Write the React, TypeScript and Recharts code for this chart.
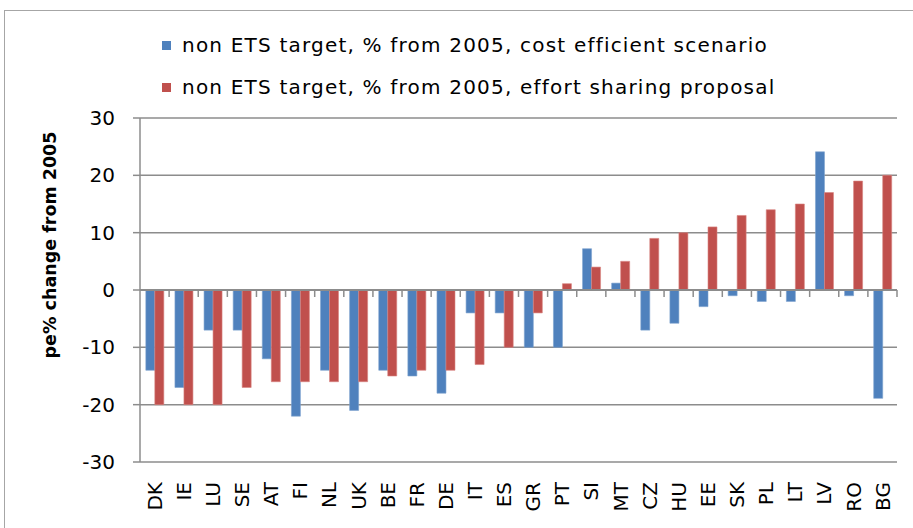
import React from "react";
import {
  Bar,
  BarChart,
  CartesianGrid,
  Legend,
  ReferenceLine,
  XAxis,
  YAxis,
} from "recharts";

// Länder (EU), Reihenfolge wie im Original
const countries = [
  "DK", "IE", "LU", "SE", "AT", "FI", "NL", "UK", "BE", "FR", "DE", "IT", "ES", "GR",
  "PT", "SI", "MT", "CZ", "HU", "EE", "SK", "PL", "LT", "LV", "RO", "BG",
];

// non ETS target, % from 2005, cost efficient scenario
const costEfficient = [
  -14, -17, -7, -7, -12, -22, -14, -21, -14, -15, -18, -4, -4, -10,
  -10, 7.2, 1.2, -7, -5.8, -2.9, -1, -2, -2, 24.1, -1, -18.9,
];

// non ETS target, % from 2005, effort sharing proposal
const effortSharing = [
  -20, -20, -20, -17, -16, -16, -16, -16, -15, -14, -14, -13, -10, -4,
  1.1, 4, 5, 9, 10, 11, 13, 14, 15, 17, 19, 20,
];

const yTicks = [-30, -20, -10, 0, 10, 20, 30];

const seriesNames = {
  cost: "non ETS target, % from 2005, cost efficient scenario",
  effort: "non ETS target, % from 2005, effort sharing proposal",
};

const BLUE = "#4F81BD";
const RED = "#C0504D";
const GRID = "#8c8c8c";
const FONT = "'DejaVu Sans', sans-serif";

const data = countries.map((c, i) => ({
  country: c,
  cost: costEfficient[i],
  effort: effortSharing[i],
}));

function CountryTick(props: any) {
  const { x, y, payload } = props;
  return (
    <text
      x={x}
      y={y}
      dy="0.36em"
      transform={`rotate(-90, ${x}, ${y})`}
      textAnchor="end"
      fontSize={20}
      fontFamily={FONT}
      fill="#000"
    >
      {payload.value}
    </text>
  );
}

function LegendBox(props: any) {
  const { payload } = props;
  return (
    <div style={{ fontFamily: FONT, fontSize: 20, color: "#000", letterSpacing: "1.2px" }}>
      {(payload || []).map((p: any) => (
        <div
          key={p.value}
          style={{ display: "flex", alignItems: "center", height: 42, whiteSpace: "nowrap" }}
        >
          <span
            style={{ width: 9, height: 9, background: p.color, display: "inline-block", marginRight: 11 }}
          />
          {p.value}
        </div>
      ))}
    </div>
  );
}

// Nulllinie mit Teilstrichen zwischen den Kategorien
function ZeroLine(props: any) {
  const { x1, y1, x2, y2 } = props;
  const step = (x2 - x1) / countries.length;
  const marks = countries.map((_, i) => x1 + step * (i + 1));
  return (
    <g>
      <line x1={x1} y1={y1} x2={x2} y2={y2} stroke={GRID} strokeWidth={1.8} />
      {marks.map((mx, i) => (
        <line key={i} x1={mx} y1={y1} x2={mx} y2={y1 + 7} stroke={GRID} strokeWidth={1.5} />
      ))}
    </g>
  );
}

export default function App() {
  return (
    <div
      style={{
        position: "absolute",
        left: 0,
        top: 0,
        width: 913,
        height: 528,
        overflow: "hidden",
        background: "#fff",
      }}
    >
      <div
        style={{
          position: "absolute",
          left: 4,
          top: 10,
          width: 940,
          height: 560,
          border: "1.5px solid #a6a6a6",
        }}
      />
      <BarChart
        width={913}
        height={528}
        data={data}
        margin={{ top: 118, right: 16, bottom: 0, left: 0 }}
        barCategoryGap="20%"
        barGap={0}
      >
        <CartesianGrid vertical={false} stroke={GRID} strokeWidth={1.5} />
        <XAxis
          dataKey="country"
          height={66}
          axisLine={false}
          tickLine={false}
          tickSize={0}
          tickMargin={20}
          interval={0}
          tick={<CountryTick />}
        />
        <YAxis
          width={140}
          domain={[-30, 30]}
          ticks={yTicks}
          interval={0}
          axisLine={{ stroke: GRID, strokeWidth: 1.5 }}
          tickLine={{ stroke: GRID, strokeWidth: 1.5 }}
          tickSize={7}
          tickMargin={18}
          tick={{ fontSize: 20, fontFamily: FONT, fill: "#000" }}
          label={{
            content: () => (
              <text
                x={50}
                y={245}
                transform="rotate(-90, 50, 245)"
                textAnchor="middle"
                dominantBaseline="central"
                fontSize={17.5}
                fontWeight="bold"
                fontFamily={FONT}
                fill="#000"
              >
                pe% change from 2005
              </text>
            ),
          }}
        />
        <Legend
          layout="vertical"
          align="center"
          verticalAlign="middle"
          wrapperStyle={{ top: 24, left: 162, width: 740 }}
          content={<LegendBox />}
        />
        <Bar
          dataKey="cost"
          name={seriesNames.cost}
          fill={BLUE}
          stroke="#7ea2cf"
          strokeWidth={0.6}
          isAnimationActive={false}
        />
        <Bar
          dataKey="effort"
          name={seriesNames.effort}
          fill={RED}
          stroke="#d98582"
          strokeWidth={0.6}
          isAnimationActive={false}
        />
        <ReferenceLine y={0} shape={<ZeroLine />} />
      </BarChart>
    </div>
  );
}
